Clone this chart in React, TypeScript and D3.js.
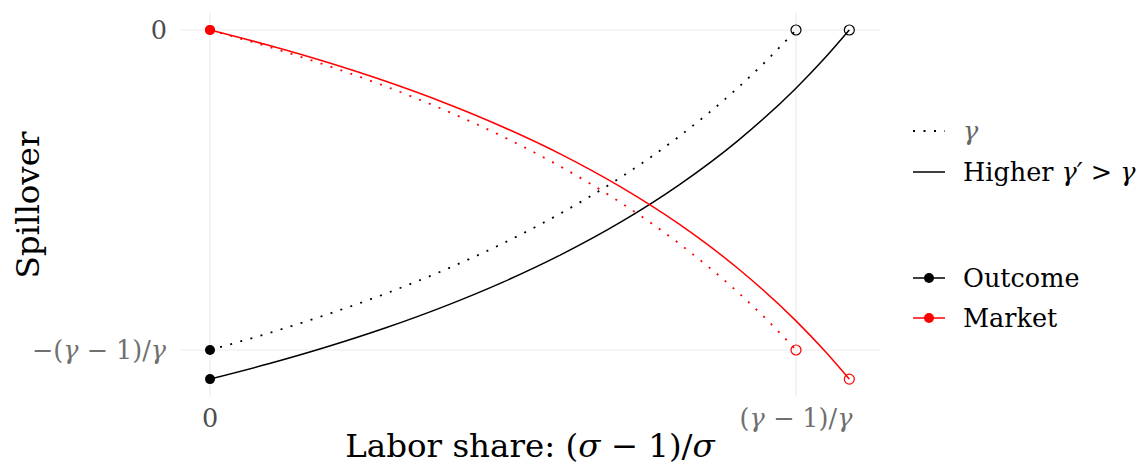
import React from "react";
import * as d3 from "d3";

const xLow = [0, 0.05, 0.1, 0.15, 0.2, 0.25, 0.3, 0.35, 0.4, 0.45, 0.475, 0.5];
const outcomeLow = [-0.5, -0.4737, -0.4444, -0.4118, -0.375, -0.3333, -0.2857, -0.2308, -0.1667, -0.0909, -0.0476, 0];
const marketLow = [0, -0.0263, -0.0556, -0.0882, -0.125, -0.1667, -0.2143, -0.2692, -0.3333, -0.4091, -0.4524, -0.5];

const xHigh = [0, 0.05, 0.1, 0.15, 0.2, 0.25, 0.3, 0.35, 0.4, 0.45, 0.5, 0.525, 0.5455];
const outcomeHigh = [-0.5455, -0.5216, -0.495, -0.4653, -0.4318, -0.3939, -0.3506, -0.3007, -0.2424, -0.1736, -0.0909, -0.0431, 0];
const marketHigh = [0, -0.0239, -0.0505, -0.0802, -0.1136, -0.1515, -0.1948, -0.2448, -0.303, -0.3719, -0.4545, -0.5024, -0.5455];

const xTicks = [0, 0.5];
const yTicks = [0, -0.5];

type Series = { name: string; kind: "low" | "high"; color: string; xs: number[]; ys: number[] };
const series: Series[] = [
  { name: "Outcome", kind: "low", color: "#000000", xs: xLow, ys: outcomeLow },
  { name: "Market", kind: "low", color: "#FF0000", xs: xLow, ys: marketLow },
  { name: "Outcome", kind: "high", color: "#000000", xs: xHigh, ys: outcomeHigh },
  { name: "Market", kind: "high", color: "#FF0000", xs: xHigh, ys: marketHigh },
];

const FONT = "'DejaVu Serif', 'Liberation Serif', serif";
const DOT = "2 8.5";

function MathGamma({ prime }: { prime?: boolean }) {
  return <tspan fontStyle="italic">γ{prime ? "′" : ""}</tspan>;
}

export default function App() {
  const W = 1138, H = 465;
  const panel = { left: 180, right: 880, top: 13, bottom: 397 };
  const x = d3.scaleLinear().domain([0, 0.5]).range([210, 796]);
  const y = d3.scaleLinear().domain([0, -0.5]).range([30, 350]);

  const line = d3
    .line<[number, number]>()
    .x((d) => x(d[0]))
    .y((d) => y(d[1]))
    .curve(d3.curveMonotoneX);

  const tickGray = "#4D4D4D";
  const mathGray = "#707070";
  const FS = 25.5;
  const TFS = 32.5;

  return (
    <svg width={W} height={H} style={{ position: "absolute", left: 0, top: 0 }} fontFamily={FONT}>
      <rect width={W} height={H} fill="#fff" />
      {xTicks.map((t) => (
        <line key={"gx" + t} x1={x(t)} x2={x(t)} y1={panel.top} y2={panel.bottom} stroke="#EBEBEB" strokeWidth={1.1} />
      ))}
      {yTicks.map((t) => (
        <line key={"gy" + t} x1={panel.left} x2={panel.right} y1={y(t)} y2={y(t)} stroke="#EBEBEB" strokeWidth={1.1} />
      ))}

      {series.map((s, i) => (
        <path
          key={"c" + i}
          d={line(s.xs.map((v, j) => [v, s.ys[j]] as [number, number])) || ""}
          fill="none"
          stroke={s.color}
          strokeWidth={s.kind === "low" ? 1.8 : 1.5}
          strokeDasharray={s.kind === "low" ? DOT : undefined}
        />
      ))}
      {series.map((s, i) => (
        <circle key={"s" + i} cx={x(s.xs[0])} cy={y(s.ys[0])} r={5} fill={s.color} />
      ))}
      {series.map((s, i) => (
        <circle
          key={"e" + i}
          cx={x(s.xs[s.xs.length - 1])}
          cy={y(s.ys[s.ys.length - 1])}
          r={5}
          fill="none"
          stroke={s.color}
          strokeWidth={1.2}
        />
      ))}

      <text x={167} y={y(0)} dy="0.36em" textAnchor="end" fontSize={FS} fill={tickGray}>0</text>
      <text x={166} y={y(-0.5)} dy="0.36em" textAnchor="end" fontSize={FS} fill={mathGray}>
        −(<MathGamma /> − 1)/<MathGamma />
      </text>
      <text x={x(0)} y={427} textAnchor="middle" fontSize={FS} fill={tickGray}>0</text>
      <text x={x(0.5)} y={427} textAnchor="middle" fontSize={FS} fill={mathGray}>
        (<MathGamma /> − 1)/<MathGamma />
      </text>

      <text x={(panel.left + panel.right) / 2} y={457} textAnchor="middle" fontSize={TFS} fill="#000">
        Labor share: (<tspan fontStyle="italic">σ</tspan> − 1)/<tspan fontStyle="italic">σ</tspan>
      </text>
      <text
        transform={`translate(39, ${(panel.top + panel.bottom) / 2}) rotate(-90)`}
        textAnchor="middle"
        fontSize={TFS}
        fill="#000"
      >
        Spillover
      </text>

      <g>
        <line x1={913} x2={945} y1={131} y2={131} stroke="#000" strokeWidth={1.8} strokeDasharray={DOT} />
        <text x={963} y={131} dy="0.36em" fontSize={FS} fill="#666">
          <MathGamma />
        </text>
        <line x1={913} x2={945} y1={172} y2={172} stroke="#000" strokeWidth={1.5} />
        <text x={963} y={172} dy="0.36em" fontSize={FS} fill="#000">
          Higher <MathGamma prime /> &gt; <MathGamma />
        </text>
      </g>
      <g>
        {[
          { label: "Outcome", color: "#000000", yy: 278 },
          { label: "Market", color: "#FF0000", yy: 318 },
        ].map((d) => (
          <g key={d.label}>
            <line x1={913} x2={945} y1={d.yy} y2={d.yy} stroke={d.color} strokeWidth={1.5} />
            <circle cx={929} cy={d.yy} r={5} fill={d.color} />
            <text x={963} y={d.yy} dy="0.36em" fontSize={FS} fill="#000">{d.label}</text>
          </g>
        ))}
      </g>
    </svg>
  );
}
